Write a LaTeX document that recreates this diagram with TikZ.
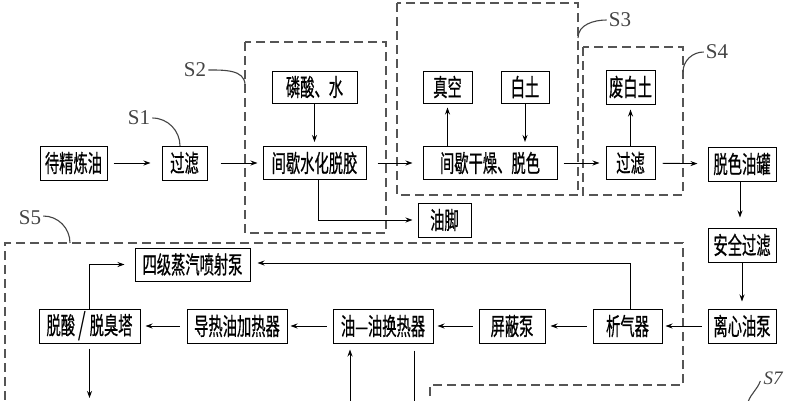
\documentclass[tikz,border=0pt]{standalone}
\usepackage{fontspec}
\usepackage{graphicx}
\setmainfont{Liberation Serif}
\newfontfamily\cjk[FakeBold=0.8]{Noto Sans CJK SC}
\usetikzlibrary{arrows.meta,calc}
\newcommand{\zh}[1]{\scalebox{0.68}[1.15]{#1}}
\definecolor{dashgray}{HTML}{555555}
\definecolor{leadgray}{HTML}{444444}
\tikzset{
  box/.style={draw, line width=1pt, minimum width=#1, minimum height=34pt, inner sep=0pt, font=\cjk\fontsize{21}{21}\selectfont},
  arr/.style={line width=0.9pt, -{Stealth[length=7pt,width=5pt]}},
  ln/.style={line width=0.9pt},
  dbox/.style={draw=dashgray, line width=1.5pt, dash pattern=on 9pt off 5pt},
  lead/.style={draw=leadgray, line width=1.1pt},
  slab/.style={font=\fontsize{21}{21}\selectfont, text=leadgray, inner sep=0pt}
}
\begin{document}
\begin{tikzpicture}[x=1pt,y=-1pt]
\useasboundingbox (0,0) rectangle (787,400);
\clip (0,0) rectangle (787,400);
\fill[white] (0,0) rectangle (787,400);
% dashed groups
\draw[dbox] (245,42) rectangle (386,233);
\draw[dbox] (397,3) rectangle (578,195);
\draw[dbox] (583,47) rectangle (683,195);
\draw[dbox] (430,410) -- (430,385) -- (683,385) -- (683,243) -- (5,243) -- (5,410);
% nodes
\node[box=67pt] (raw) at (73.5,163) {\zh{待精炼油}};
\node[box=45pt] (f1) at (184.5,163) {\zh{过滤}};
\node[box=85pt, minimum height=32pt] (phos) at (314.5,87) {\zh{磷酸、水}};
\node[box=103pt, minimum height=33pt] (degum) at (314.5,163) {\zh{间歇水化脱胶}};
\node[box=53pt] (foot) at (444.5,220) {\zh{油脚}};
\node[box=49pt, minimum height=32pt] (vac) at (447.5,87) {\zh{真空}};
\node[box=48pt, minimum height=32pt] (clay) at (525,87) {\zh{白土}};
\node[box=134pt, minimum height=33pt] (dry) at (490,163) {\zh{间歇干燥、脱色}};
\node[box=49pt] (wclay) at (630.5,87) {\zh{废白土}};
\node[box=49pt, minimum height=33pt] (f2) at (630.5,163) {\zh{过滤}};
\node[box=68pt] (tank) at (742,164) {\zh{脱色油罐}};
\node[box=68pt] (safe) at (742,245) {\zh{安全过滤}};
\node[box=68pt] (cpump) at (742,326) {\zh{离心油泵}};
\node[box=69pt] (sep) at (627.5,326) {\zh{析气器}};
\node[box=66pt] (spump) at (512,326) {\zh{屏蔽泵}};
\node[box=100pt] (hx) at (383,326) {\zh{油—油换热器}};
\node[box=100pt] (heater) at (237,326) {\zh{导热油加热器}};
\node[box=101pt] (deo) at (89.5,326) {\zh{脱酸}\,\raisebox{-6pt}{\scalebox{1.3}[2.1]{\rmfamily /}}\,\zh{脱臭塔}};
\node[box=115pt, minimum height=33pt] (ejector) at (192.5,264.5) {\zh{四级蒸汽喷射泵}};
% free ends
\coordinate (deoout) at (89.5,398);
\coordinate (hxin) at (350,402);
\coordinate (hxout) at (414,402);
% connectors
\draw[arr, shorten <=6pt, shorten >=11pt] (raw) -- (f1);
\draw[arr, shorten <=13pt, shorten >=5pt] (f1) -- (degum);
\draw[arr, shorten >=4pt] (phos) -- (degum);
\draw[arr, shorten <=11pt, shorten >=10pt] (degum) -- (dry);
\draw[arr, shorten >=5pt] ([xshift=3.5pt]degum.south) |- (foot.west);
\draw[arr, shorten >=4pt] (dry.north -| vac) -- (vac);
\draw[arr, shorten >=4pt] (clay) -- (clay |- dry.north);
\draw[arr, shorten <=6pt, shorten >=6pt] (dry) -- (f2);
\draw[arr, shorten >=5pt] (f2) -- (wclay);
\draw[arr, shorten <=7pt, shorten >=10pt] (f2) -- (tank);
\draw[arr, shorten >=10pt] ([xshift=-2pt]tank.south) -- ([xshift=-2pt]safe.north);
\draw[arr, shorten >=7pt] (safe) -- (cpump);
\draw[arr, shorten <=6pt, shorten >=3pt] (cpump) -- (sep);
\draw[arr, shorten <=6pt, shorten >=5pt] (sep) -- (spump);
\draw[arr, shorten <=6pt, shorten >=4pt] (spump) -- (hx);
\draw[arr, shorten <=6pt, shorten >=3pt] (hx) -- (heater);
\draw[arr, shorten <=7pt, shorten >=5pt] (heater) -- (deo);
\draw[arr, shorten >=7pt] ([xshift=2.5pt]sep.north) |- ([yshift=1.5pt]ejector.east);
\draw[arr, shorten >=10pt] (deo.north) |- (ejector.west);
\draw[arr, shorten <=5pt] (deo.south) -- (deoout);
\draw[arr, shorten >=6pt] (hxin) -- (hxin |- hx.south);
\draw[ln, shorten <=7pt] (hx.south -| hxout) -- (hxout);
% labels
\node[slab] (s1) at (139,118) {S1};
\node[slab] (s2) at (195,70) {S2};
\node[slab] (s3) at (620,20) {S3};
\node[slab] (s4) at (717,52) {S4};
\node[slab] (s5) at (30,218) {S5};
\node[slab, font=\itshape\fontsize{19}{19}\selectfont] (s7) at (773,378) {S7};
\draw[lead] (s1.east) ++(2,0) to[out=0,in=90] (180,146);
\draw[lead] (s2.east) ++(2,0) to[out=0,in=90] (245,85);
\draw[lead] (s3.west) ++(-2,0) to[out=180,in=90] (578,38);
\draw[lead] (s4.west) ++(-2,0) to[out=180,in=90] (683,72);
\draw[lead] (s5.east) ++(2,-2) to[out=0,in=90] (70,243);
\draw[lead] (s7.west) ++(-3,3) to[out=-110,in=70] (748,402);
\end{tikzpicture}
\end{document}
